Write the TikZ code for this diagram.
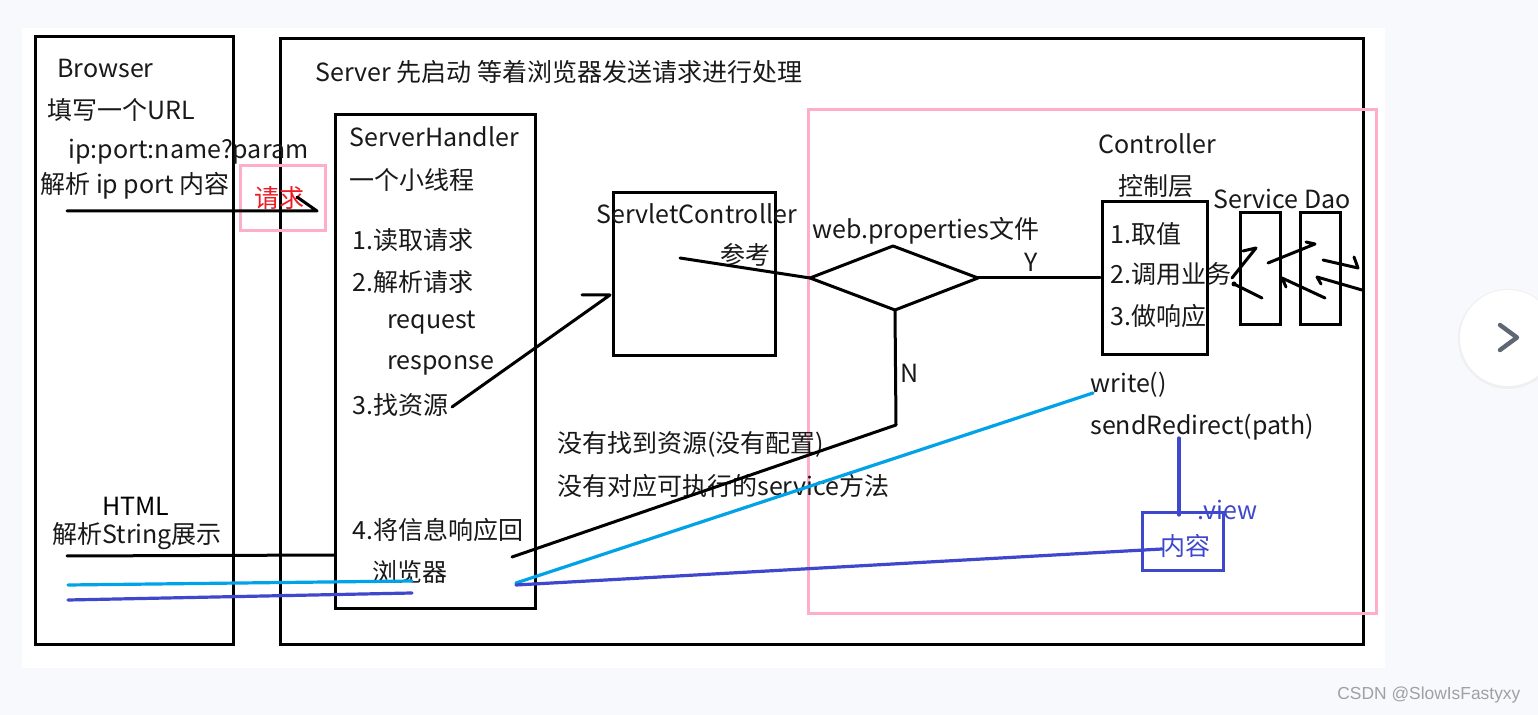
\documentclass[tikz,border=0pt]{standalone}
\usepackage{fontspec}
\setmainfont{Noto Sans CJK SC}
\newfontfamily\wmfont{Liberation Sans}
\usetikzlibrary{arrows.meta}
\definecolor{bgc}{HTML}{F8F9FC}
\definecolor{pinkc}{HTML}{FFAEC9}
\definecolor{cyanc}{HTML}{00A2E8}
\definecolor{bluec}{HTML}{3F48CC}
\definecolor{redc}{HTML}{ED1C24}
\definecolor{chevc}{HTML}{5F6775}
\definecolor{wmc}{HTML}{A0A0A0}
\begin{document}
\begin{tikzpicture}[x=0.5pt,y=-0.5pt,
  txt/.style={anchor=west,inner sep=0pt,font=\fontsize{12.5}{14}\selectfont,text=black!90},
  ctxt/.style={anchor=center,inner sep=0pt,font=\fontsize{12.5}{14}\selectfont},
  box/.style={draw=black,line width=1.5pt},
  pinkbox/.style={draw=pinkc,line width=1.5pt},
  bluebox/.style={draw=bluec,line width=1.5pt},
  ln/.style={draw=black,line width=1.5pt,line cap=round,line join=round},
  cyanln/.style={draw=cyanc,line width=1.6pt,line cap=round},
  blueln/.style={draw=bluec,line width=1.6pt,line cap=round}]
\useasboundingbox (0,0) rectangle (1538,715);
\fill[bgc] (0,0) rectangle (1538,715);
\fill[white] (22,28) rectangle (1385,668);

% ---- boxes ----
\draw[box] (35,37) rectangle (233,645);
\draw[box] (280,39) rectangle (1363,645);
\draw[box] (335,115) rectangle (535,609);
\draw[box] (613,193) rectangle (775,356);
\draw[box] (1102,202) rectangle (1207,355);
\draw[box] (1240,213) rectangle (1280,325);
\draw[box] (1300,213) rectangle (1340,325);
\draw[pinkbox] (808,110) rectangle (1376,614);
\draw[pinkbox] (240,166) rectangle (325,231);
\draw[bluebox] (1142,513) rectangle (1223,571);

% ---- diamond ----
\coordinate (dl) at (810,278);
\coordinate (dt) at (893,246);
\coordinate (dr) at (978,278);
\coordinate (db) at (895,310);
\draw[ln] (dl) -- (dt) -- (dr) -- (db) -- cycle;

% ---- texts ----
\node[txt] (tbrowser) at (57,69) {Browser};
\node[txt] (turl) at (47,110) {填写一个URL};
\node[txt] (tip) at (68,152) {ip:port:name?param};
\node[txt] (tparse) at (40,186) {解析 ip port 内容};
\node[ctxt,text=redc] (treq) at (279,198) {请求};
\node[txt] (tserver) at (315,72) {Server 先启动 等着浏览器发送请求进行处理};
\node[txt] (tsh) at (349,137) {ServerHandler};
\node[txt] (tthread) at (349,180) {一个小线程};
\node[txt] (t1) at (352,240) {1.读取请求};
\node[txt] (t2) at (352,282) {2.解析请求};
\node[txt] (treq2) at (387,323) {request};
\node[txt] (tresp) at (387,365) {response};
\node[txt] (t3) at (352,405) {3.找资源};
\node[txt] (t4) at (352,530) {4.将信息响应回};
\node[txt] (tbr) at (372,572) {浏览器};
\node[txt] (tsc) at (596,214) {ServletController};
\node[txt] (tref) at (720,255) {参考};
\node[txt] (twp) at (812,231) {web.properties文件};
\node[txt] (ty) at (1024,262) {Y};
\node[txt] (tn) at (900,373) {N};
\node[txt] (tno1) at (557,444) {没有找到资源(没有配置)};
\node[txt] (tno2) at (557,486) {没有对应可执行的service方法};
\node[txt] (tctl) at (1098,144) {Controller};
\node[txt] (tctl2) at (1118,186) {控制层};
\node[txt] (c1) at (1110,234) {1.取值};
\node[txt] (c2) at (1110,274) {2.调用业务};
\node[txt] (c3) at (1110,316) {3.做响应};
\node[txt] (tsd) at (1213,199) {Service Dao};
\node[txt] (twrite) at (1090,385) {write()};
\node[txt] (tsend) at (1090,427) {sendRedirect(path)};
\node[txt,text=bluec] (tview) at (1197,510) {.view};
\node[ctxt,text=bluec] (tcont) at (1185,546) {内容};
\node[ctxt] (thtml) at (136,506) {HTML};
\node[txt] (tparse2) at (52,536) {解析String展示};

% ---- connectors (named coordinates) ----
\coordinate (rqA) at (67,211);
\coordinate (rqB) at (317,211);
\coordinate (rqC) at (297,197);
\draw[ln] (rqA) -- (rqB) -- (rqC);

\coordinate (fzA) at (452,407);
\coordinate (fzB) at (610,295);
\coordinate (fzC) at (582,295);
\draw[ln] (fzA) -- (fzB) -- (fzC);

\coordinate (ckA) at (680,258);
\draw[ln] (ckA) -- (dl);

\coordinate (yB) at (1100,278);
\draw[ln] (dr) -- (yB);

\coordinate (nC) at (896,425);
\coordinate (nD) at (512,557);
\draw[ln] (db) -- (nC) -- (nD);

\coordinate (hA) at (67,556);
\coordinate (hB) at (335,555);
\draw[ln] (hA) -- (hB);

\coordinate (wrA) at (516,583);
\coordinate (wrB) at (1093,393);
\draw[cyanln] (wrA) -- (wrB);
\coordinate (lcA) at (68,585);
\coordinate (lcB) at (412,581);
\draw[cyanln] (lcA) -- (lcB);

\coordinate (vA) at (516,585);
\coordinate (vB) at (1162,549);
\draw[blueln] (vA) -- (vB);
\coordinate (lbA) at (68,600);
\coordinate (lbB) at (412,593);
\draw[blueln] (lbA) -- (lbB);

\coordinate (srA) at (1179,438);
\coordinate (srB) at (1179,515);
\draw[blueln] (srA) -- (srB);

% ---- service / dao arrows ----
\coordinate (s1a) at (1232,278); \coordinate (s1b) at (1256,248); \coordinate (s1c) at (1243,251);
\draw[ln] (s1a) -- (s1b) -- (s1c);
\coordinate (s2a) at (1262,298); \coordinate (s2b) at (1234,284);
\draw[ln] (s2a) -- (s2b);
\fill (s2b) circle[radius=2.5];
\coordinate (s3a) at (1268,263); \coordinate (s3b) at (1315,244); \coordinate (s3c) at (1306,242);
\draw[ln] (s3a) -- (s3b) -- (s3c);
\coordinate (s4a) at (1325,298); \coordinate (s4b) at (1282,278); \coordinate (s4c) at (1286,287);
\draw[ln] (s4a) -- (s4b) -- (s4c);
\coordinate (s5a) at (1323,260); \coordinate (s5b) at (1358,268); \coordinate (s5c) at (1354,257);
\draw[ln] (s5a) -- (s5b) -- (s5c);
\coordinate (s6a) at (1362,290); \coordinate (s6b) at (1317,277); \coordinate (s6c) at (1321,284);
\draw[ln] (s6a) -- (s6b) -- (s6c);

% ---- page chrome ----
\fill[black!6] (1508,339) circle[radius=50];
\fill[white] (1508,338) circle[radius=48];
\coordinate (chA) at (1500,325);
\coordinate (chB) at (1517,337.5);
\coordinate (chC) at (1500,350);
\draw[chevc,line width=2.2pt,line cap=round,line join=round] (chA) -- (chB) -- (chC);
\node[anchor=west,inner sep=0pt,text=wmc,font=\wmfont\fontsize{8.7}{10}\selectfont] (wm) at (1337,695) {CSDN @SlowIsFastyxy};
\end{tikzpicture}
\end{document}
